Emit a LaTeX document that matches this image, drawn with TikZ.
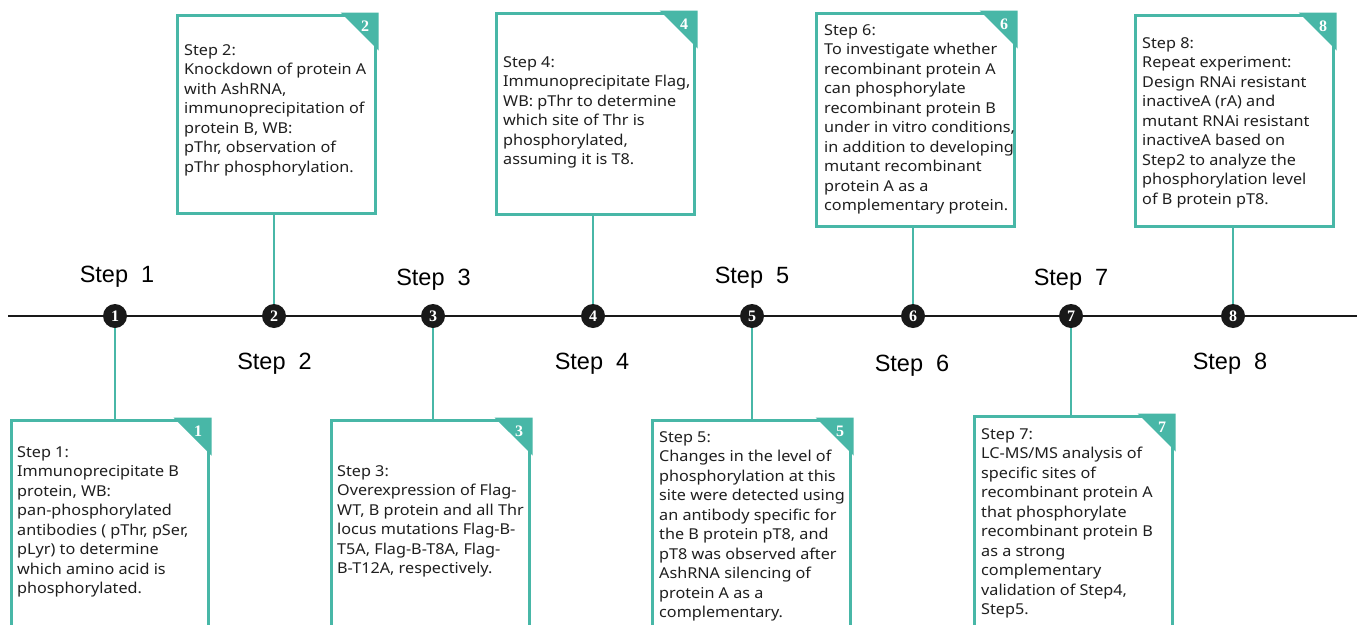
\documentclass[tikz,border=0pt]{standalone}
\usepackage{fontspec}
\setmainfont[FakeStretch=1.08]{Noto Sans}
\newfontfamily\labelfont{Liberation Sans}
\newfontfamily\numfont{Liberation Serif}
\definecolor{myteal}{RGB}{72,183,167}
\tikzset{
  stepbox/.style={draw=myteal, line width=3pt, fill=white, rectangle, inner sep=0pt, anchor=north west},
  boxtxt/.style={anchor=north west, inner sep=0pt, align=left, font=\fontsize{15}{19.5}\selectfont, text=black!88},
  dot/.style={circle, fill=black!90, inner sep=0pt, minimum size=24pt, text=white, font=\numfont\bfseries\fontsize{16}{16}\selectfont},
  steplbl/.style={anchor=base, inner sep=0pt, font=\labelfont\fontsize{23.5}{23.5}\selectfont},
  conn/.style={draw=myteal, line width=2.5pt},
  cornernum/.style={text=white, inner sep=0pt, font=\numfont\bfseries\fontsize{16}{16}\selectfont}
}
\newcommand{\mkbox}[7]{%
  % #1 name, #2 x1, #3 y1, #4 x2, #5 y2, #6 number, #7 text
  \node[stepbox, minimum width={#4-#2}, minimum height={#5-#3}] (#1) at (#2,#3) {};
  \coordinate (#1c) at ([shift={(1.5,-1.5)}]#1.north east);
  \fill[myteal] (#1c) -- ++(-38,0) -- ++(38,38) -- cycle;
  \node[cornernum] (#1n) at ([shift={(-12,12)}]#1.north east) {#6};
}
\begin{document}
\begin{tikzpicture}[x=1pt, y=-1pt]
\clip (0,0) rectangle (1357,624);
\fill[white] (0,0) rectangle (1357,624);

% timeline
\coordinate (tl) at (8,316);
\coordinate (tr) at (1357,316);
\draw[line width=2pt, black!90] (tl) -- (tr);

% boxes
\mkbox{b1}{10}{419}{207}{660}{1}{}
\mkbox{b2}{176}{14}{374}{212}{2}{}
\mkbox{b3}{330}{419}{528}{660}{3}{}
\mkbox{b4}{495}{12}{693}{213}{4}{}
\mkbox{b5}{651}{419}{849}{660}{5}{}
\mkbox{b6}{815}{12}{1013}{225}{6}{}
\mkbox{b7}{973}{415}{1171}{660}{7}{}
\mkbox{b8}{1134}{14}{1332}{225}{8}{}

% circles
\node[dot] (c1) at (115,316) {1};
\node[dot] (c2) at (274,316) {2};
\node[dot] (c3) at (433,316) {3};
\node[dot] (c4) at (593,316) {4};
\node[dot] (c5) at (752,316) {5};
\node[dot] (c6) at (913,316) {6};
\node[dot] (c7) at (1071,316) {7};
\node[dot] (c8) at (1233,316) {8};

% connectors
\draw[conn] (c1.south) -- (c1 |- b1.north);
\draw[conn] (c2.north) -- (c2 |- b2.south);
\draw[conn] (c3.south) -- (c3 |- b3.north);
\draw[conn] (c4.north) -- (c4 |- b4.south);
\draw[conn] (c5.south) -- (c5 |- b5.north);
\draw[conn] (c6.north) -- (c6 |- b6.south);
\draw[conn] (c7.south) -- (c7 |- b7.north);
\draw[conn] (c8.north) -- (c8 |- b8.south);

% step labels
\node[steplbl] (s1) at (117,282) {Step\ \ 1};
\node[steplbl] (s2) at (274.5,369) {Step\ \ 2};
\node[steplbl] (s3) at (433.5,285) {Step\ \ 3};
\node[steplbl] (s4) at (592,369) {Step\ \ 4};
\node[steplbl] (s5) at (752,283) {Step\ \ 5};
\node[steplbl] (s6) at (912,371) {Step\ \ 6};
\node[steplbl] (s7) at (1071,285) {Step\ \ 7};
\node[steplbl] (s8) at (1230,369) {Step\ \ 8};

% texts
\node[boxtxt] (t1) at (17,443.3) {\strut Step 1:\\Immunoprecipitate B\\protein, WB:\\pan-phosphorylated\\antibodies ( pThr, pSer,\\pLyr) to determine\\which amino acid is\\phosphorylated.};
\node[boxtxt] (t2) at (184,41.3) {\strut Step 2:\\Knockdown of protein A\\with AshRNA,\\immunoprecipitation of\\protein B, WB:\\pThr, observation of\\pThr phosphorylation.};
\node[boxtxt] (t3) at (337,462.3) {\strut Step 3:\\Overexpression of Flag-\\WT, B protein and all Thr\\locus mutations Flag-B-\\T5A, Flag-B-T8A, Flag-\\B-T12A, respectively.};
\node[boxtxt] (t4) at (503,53.3) {\strut Step 4:\\Immunoprecipitate Flag,\\WB: pThr to determine\\which site of Thr is\\phosphorylated,\\assuming it is T8.};
\node[boxtxt] (t5) at (659,428.3) {\strut Step 5:\\Changes in the level of\\phosphorylation at this\\site were detected using\\an antibody specific for\\the B protein pT8, and\\pT8 was observed after\\AshRNA silencing of\\protein A as a\\complementary.};
\node[boxtxt] (t6) at (824,21.3) {\strut Step 6:\\To investigate whether\\recombinant protein A\\can phosphorylate\\recombinant protein B\\under in vitro conditions,\\in addition to developing\\mutant recombinant\\protein A as a\\complementary protein.};
\node[boxtxt] (t7) at (981,425.3) {\strut Step 7:\\LC-MS/MS analysis of\\specific sites of\\recombinant protein A\\that phosphorylate\\recombinant protein B\\as a strong\\complementary\\validation of Step4,\\Step5.};
\node[boxtxt] (t8) at (1142,34.3) {\strut Step 8:\\Repeat experiment:\\Design RNAi resistant\\inactiveA (rA) and\\mutant RNAi resistant\\inactiveA based on\\Step2 to analyze the\\phosphorylation level\\of B protein pT8.};
\end{tikzpicture}
\end{document}
